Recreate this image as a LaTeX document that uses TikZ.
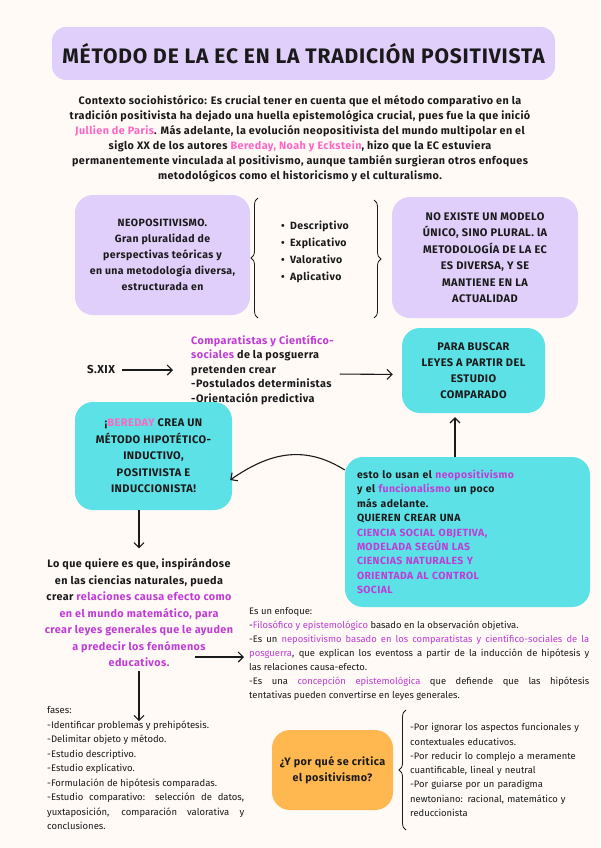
\documentclass[tikz,border=0pt]{standalone}
\usepackage{fontspec}
\setmainfont{Fira Sans}[LetterSpace=4]
\newfontfamily\fina{Fira Sans}
\usetikzlibrary{arrows.meta,decorations.pathreplacing,calc}
\definecolor{fondo}{HTML}{FFFAF6}
\definecolor{lila}{HTML}{E0CFFA}
\definecolor{turquesa}{HTML}{5CE1E6}
\definecolor{naranja}{HTML}{FFB74F}
\definecolor{rosa}{HTML}{FF66C4}
\definecolor{morado}{HTML}{C03CD6}
\definecolor{tinta}{HTML}{1A1A1A}
\newcommand\rosa[1]{\textcolor{rosa}{#1}}
\newcommand\mor[1]{\textcolor{morado}{#1}}
\begin{document}
\begin{tikzpicture}[x=1pt,y=-1pt,
    every node/.style={text=tinta},
    flecha/.style={-{Straight Barb[length=5pt,width=10pt]},line width=1.1pt,draw=tinta},
    caja/.style={rounded corners=18pt,align=center,inner sep=0pt},
    lilabox/.style={caja,fill=lila},
    turqbox/.style={caja,fill=turquesa},
    llave/.style={decorate,decoration={brace,amplitude=7pt},line width=.8pt,draw=tinta},
    texto/.style={align=left,inner sep=0pt},
    parrafo/.style={align=justify,inner sep=0pt}]
  \fill[fondo](0,0) rectangle (600,848);
  \useasboundingbox (0,0) rectangle (600,848);
  % titulo
  \node (titulo) at(303.5,53.5)[caja,fill=lila,rounded corners=14pt,minimum width=503pt,minimum height=53pt,font=\bfseries\fontsize{21}{24}\selectfont]{MÉTODO DE LA EC EN LA TRADICIÓN POSITIVISTA};
  % contexto
  \node (contexto) at(300,139)[align=center,font=\bfseries\fontsize{10.8}{15}\selectfont]{Contexto sociohistórico: Es crucial tener en cuenta que el método comparativo en la\\
    tradición positivista ha dejado una huella epistemológica crucial, pues fue la que inició\\
    \rosa{Jullien de Paris}. Más adelante, la evolución neopositivista del mundo multipolar en el\\
    siglo XX de los autores \rosa{Bereday, Noah y Eckstein}, hizo que la EC estuviera\\
    permanentemente vinculada al positivismo, aunque también surgieran otros enfoques\\
    metodológicos como el historicismo y el culturalismo.};
  % fila de arriba
  \node (neo) at(162.5,255)[lilabox,minimum width=175pt,minimum height=120pt,font=\bfseries\fontsize{10.5}{16}\selectfont]{NEOPOSITIVISMO.\\Gran pluralidad de\\perspectivas teóricas y\\en una metodología diversa,\\estructurada en};
  \node (tipos) at(315,252)[texto,font=\bfseries\fontsize{10.5}{17}\selectfont]{\textbullet\enspace Descriptivo\\\textbullet\enspace Explicativo\\\textbullet\enspace Valorativo\\\textbullet\enspace Aplicativo};
  \draw[llave](258,318)--(258,198);
  \draw[llave](374,200)--(374,318);
  \node (nomodelo) at(485,257.5)[lilabox,minimum width=186pt,minimum height=121pt,font=\bfseries\fontsize{11}{16.5}\selectfont]{NO EXISTE UN MODELO\\ÚNICO, SINO PLURAL. lA\\METODOLOGÍA DE LA EC\\ES DIVERSA, Y SE\\MANTIENE EN LA\\ACTUALIDAD};
  % S.XIX
  \node (sxix) at(101,370)[font=\bfseries\fontsize{11.5}{12}\selectfont]{S.XIX};
  \node (comp) at(191,370)[texto,anchor=west,font=\bfseries\fontsize{10.8}{14.5}\selectfont]{\mor{Comparatistas y Científico-}\\\mor{sociales} de la posguerra\\pretenden crear\\-Postulados deterministas\\-Orientación predictiva};
  \node (leyes) at(473.5,370.5)[turqbox,minimum width=143pt,minimum height=85pt,font=\bfseries\fontsize{11}{16}\selectfont]{PARA BUSCAR\\LEYES A PARTIR DEL\\ESTUDIO\\COMPARADO};
  \draw[flecha,shorten <=4pt,shorten >=18pt](sxix.east)--(comp.west);
  \draw[flecha,shorten <=6pt,shorten >=9pt]([yshift=-4pt]comp.east)--([yshift=-4pt]leyes.west);
  % cajas turquesa
  \node (bereday) at(153.5,456)[turqbox,minimum width=157pt,minimum height=108pt,font=\bfseries\fontsize{11}{16.5}\selectfont]{¡\rosa{BEREDAY} CREA UN\\MÉTODO HIPOTÉTICO-\\INDUCTIVO,\\POSITIVISTA E\\INDUCCIONISTA!};
  \node (esto) at(467.5,532)[turqbox,minimum width=245pt,minimum height=150pt,text width=221pt,align=left,font=\bfseries\fontsize{10.4}{14.4}\selectfont]{esto lo usan el \mor{neopositivismo}\\y el \mor{funcionalismo} un poco\\más adelante.\\QUIEREN CREAR UNA\\\mor{CIENCIA SOCIAL OBJETIVA,}\\\mor{MODELADA SEGÚN LAS}\\\mor{CIENCIAS NATURALES Y}\\\mor{ORIENTADA AL CONTROL}\\\mor{SOCIAL}};
  \draw[flecha]([xshift=-12.5pt]esto.north)--([xshift=-18.5pt,yshift=-4pt]leyes.south);
  \draw[flecha]([yshift=62pt]esto.west) .. controls +(-40,-25) and +(40,-28) .. ([xshift=-2pt,yshift=-24pt]bereday.east);
  % lo que quiere
  \node (lo) at(139,613)[align=center,font=\bfseries\fontsize{10.8}{16.5}\selectfont]{Lo que quiere es que, inspirándose\\en las ciencias naturales, pueda\\crear \mor{relaciones causa efecto como}\\\mor{en el mundo matemático, para}\\\mor{crear leyes generales que le ayuden}\\\mor{a predecir los fenómenos}\\\mor{educativos.}};
  \draw[flecha,shorten >=7pt](bereday.south -| lo.north)--(lo.north);
  \coordinate (lofin) at(195,657);
  \node (enfoque) at(249,654)[parrafo,anchor=west,text width=340pt,font=\fina\fontsize{9.4}{14}\selectfont]{Es un enfoque:\\
    -\mor{Filosófico y epistemológico} basado en la observación objetiva.\\
    -Es un \mor{nepositivismo basado en los comparatistas y científico-sociales de la}\linebreak
    \mor{posguerra}, que explican los eventoss a partir de la inducción de hipótesis y\linebreak
    las relaciones causa-efecto.\\
    -Es una \mor{concepción epistemológica} que defiende que las hipótesis\linebreak
    tentativas pueden convertirse en leyes generales.};
  \draw[flecha,shorten >=5pt](lofin)--(lofin -| enfoque.west);
  % fases
  \node (fases) at(47,768)[parrafo,anchor=west,text width=197pt,font=\fina\fontsize{9.5}{14.5}\selectfont]{fases:\\
    -Identificar problemas y prehipótesis.\\
    -Delimitar objeto y método.\\
    -Estudio descriptivo.\\
    -Estudio explicativo.\\
    -Formulación de hipótesis comparadas.\\
    -Estudio comparativo: selección de datos,\linebreak
    yuxtaposición, comparación valorativa y\linebreak
    conclusiones.};
  \draw[flecha](lo.south)--($(lo.south |- fases.north)+(0,15)$);
  % critica
  \node (critica) at(332.5,770)[caja,fill=naranja,minimum width=121pt,minimum height=80pt,font=\bfseries\fontsize{10.8}{16}\selectfont]{¿Y por qué se critica\\el positivismo?};
  \draw[llave](406,830)--(406,710);
  \node (razones) at(410,770)[texto,anchor=west,text width=186pt,font=\fina\fontsize{9.4}{14.3}\selectfont]{-Por ignorar los aspectos funcionales y\\
    contextuales educativos.\\
    -Por reducir lo complejo a meramente\\
    cuantificable, lineal y neutral\\
    -Por guiarse por un paradigma\\
    newtoniano: racional, matemático y\\
    reduccionista};
\end{tikzpicture}
\end{document}
